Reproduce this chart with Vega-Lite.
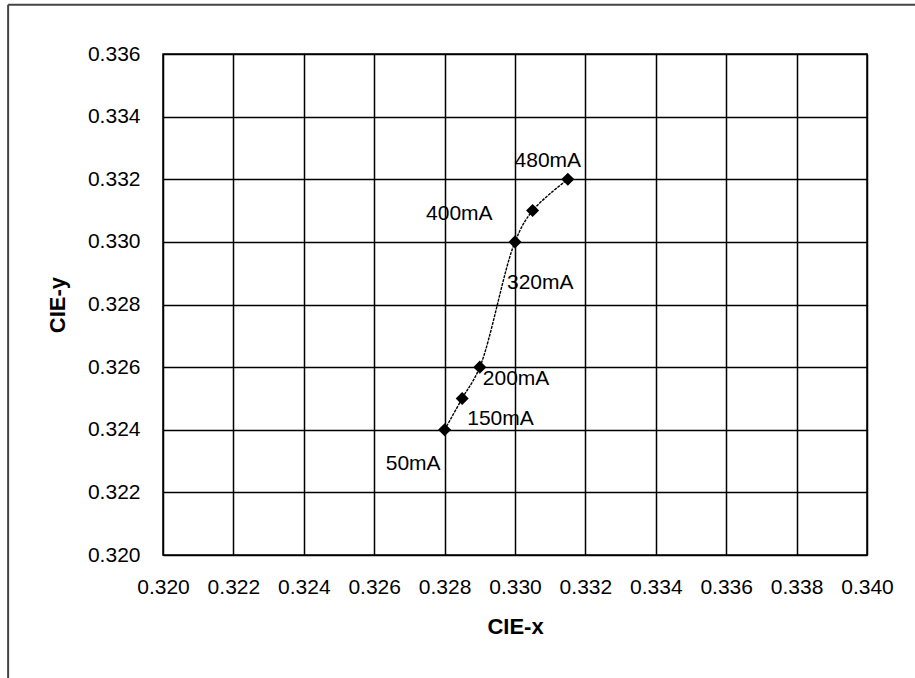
{
  "$schema": "https://vega.github.io/schema/vega-lite/v6.json",
  "width": 704,
  "height": 501,
  "autosize": {"type": "none"},
  "padding": {"left": 163, "top": 54, "right": 48, "bottom": 123},
  "background": "white",
  "config": {
    "font": "Liberation Sans",
    "view": {"stroke": "black", "strokeWidth": 1.5},
    "axis": {
      "grid": true,
      "gridColor": "black",
      "gridWidth": 1.5,
      "gridOpacity": 1,
      "domain": false,
      "ticks": false,
      "labelOverlap": false,
      "labelFlush": false,
      "labelFont": "Liberation Sans",
      "labelFontSize": 21,
      "labelColor": "black",
      "titleFont": "Liberation Sans",
      "titleFontSize": 22,
      "titleFontWeight": "bold",
      "titleColor": "black"
    }
  },
  "datasets": {
    "points": [
      {"current": "50mA", "mA": 50, "x": 0.328, "y": 0.324},
      {"current": "150mA", "mA": 150, "x": 0.3285, "y": 0.325},
      {"current": "200mA", "mA": 200, "x": 0.329, "y": 0.326},
      {"current": "320mA", "mA": 320, "x": 0.330, "y": 0.330},
      {"current": "400mA", "mA": 400, "x": 0.3305, "y": 0.331},
      {"current": "480mA", "mA": 480, "x": 0.3315, "y": 0.332}
    ]
  },
  "data": {"name": "points"},
  "layer": [
    {
      "mark": {"type": "line", "interpolate": "catmull-rom", "color": "black", "strokeWidth": 1.4, "strokeDash": [3, 1]},
      "encoding": {
        "x": {
          "field": "x", "type": "quantitative",
          "scale": {"domain": [0.320, 0.340], "nice": false, "zero": false},
          "axis": {
            "title": "CIE-x",
            "values": [0.320, 0.322, 0.324, 0.326, 0.328, 0.330, 0.332, 0.334, 0.336, 0.338, 0.340],
            "format": ".3f",
            "labelPadding": 21,
            "titlePadding": 19
          }
        },
        "y": {
          "field": "y", "type": "quantitative",
          "scale": {"domain": [0.320, 0.336], "nice": false, "zero": false},
          "axis": {
            "title": "CIE-y",
            "values": [0.320, 0.322, 0.324, 0.326, 0.328, 0.330, 0.332, 0.334, 0.336],
            "format": ".3f",
            "labelPadding": 23,
            "titlePadding": 18
          }
        },
        "order": {"field": "mA", "type": "quantitative"}
      }
    },
    {
      "mark": {"type": "point", "shape": "diamond", "filled": true, "size": 170, "color": "black", "opacity": 1},
      "encoding": {
        "x": {"field": "x", "type": "quantitative"},
        "y": {"field": "y", "type": "quantitative"}
      }
    },
    {
      "transform": [{"filter": "datum.current === '480mA'"}],
      "mark": {"type": "text", "align": "center", "baseline": "middle", "dx": -20, "dy": -18, "fontSize": 21, "color": "black"},
      "encoding": {
        "x": {"field": "x", "type": "quantitative"},
        "y": {"field": "y", "type": "quantitative"},
        "text": {"field": "current"}
      }
    },
    {
      "transform": [{"filter": "datum.current === '400mA'"}],
      "mark": {"type": "text", "align": "right", "baseline": "middle", "dx": -40, "dy": 3, "fontSize": 21, "color": "black"},
      "encoding": {
        "x": {"field": "x", "type": "quantitative"},
        "y": {"field": "y", "type": "quantitative"},
        "text": {"field": "current"}
      }
    },
    {
      "transform": [{"filter": "datum.current === '320mA'"}],
      "mark": {"type": "text", "align": "left", "baseline": "middle", "dx": -8, "dy": 41, "fontSize": 21, "color": "black"},
      "encoding": {
        "x": {"field": "x", "type": "quantitative"},
        "y": {"field": "y", "type": "quantitative"},
        "text": {"field": "current"}
      }
    },
    {
      "transform": [{"filter": "datum.current === '200mA'"}],
      "mark": {"type": "text", "align": "left", "baseline": "middle", "dx": 3, "dy": 12, "fontSize": 21, "color": "black"},
      "encoding": {
        "x": {"field": "x", "type": "quantitative"},
        "y": {"field": "y", "type": "quantitative"},
        "text": {"field": "current"}
      }
    },
    {
      "transform": [{"filter": "datum.current === '150mA'"}],
      "mark": {"type": "text", "align": "left", "baseline": "middle", "dx": 5, "dy": 21, "fontSize": 21, "color": "black"},
      "encoding": {
        "x": {"field": "x", "type": "quantitative"},
        "y": {"field": "y", "type": "quantitative"},
        "text": {"field": "current"}
      }
    },
    {
      "transform": [{"filter": "datum.current === '50mA'"}],
      "mark": {"type": "text", "align": "right", "baseline": "middle", "dx": -4, "dy": 34, "fontSize": 21, "color": "black"},
      "encoding": {
        "x": {"field": "x", "type": "quantitative"},
        "y": {"field": "y", "type": "quantitative"},
        "text": {"field": "current"}
      }
    },
    {
      "data": {"values": [{}]},
      "mark": {"type": "rule", "color": "#444444", "strokeWidth": 2},
      "encoding": {
        "x": {"datum": 0.3156, "type": "quantitative"},
        "x2": {"datum": 0.3414},
        "y": {"datum": 0.33757, "type": "quantitative"}
      }
    },
    {
      "data": {"values": [{}]},
      "mark": {"type": "rule", "color": "#444444", "strokeWidth": 2},
      "encoding": {
        "x": {"datum": 0.3156, "type": "quantitative"},
        "y": {"datum": 0.33757, "type": "quantitative"},
        "y2": {"datum": 0.3160}
      }
    }
  ]
}
